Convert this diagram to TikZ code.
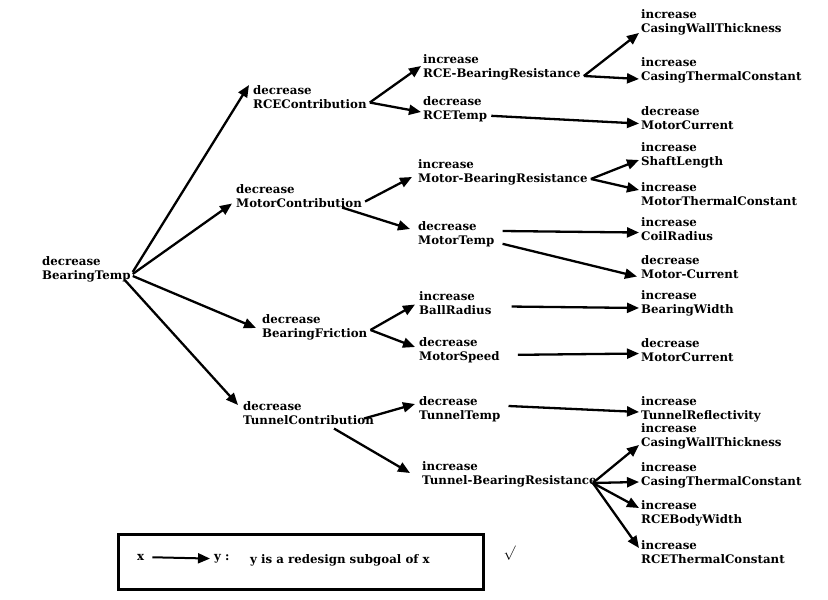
\documentclass[tikz,border=0pt]{standalone}
\usepackage{fontspec}
\setmainfont{DejaVu Serif}
\usetikzlibrary{arrows.meta}
\begin{document}
\begin{tikzpicture}[x=1pt,y=-1pt,
  lbl/.style={anchor=north west,inner sep=0pt,align=left,font=\bfseries\fontsize{11.8}{14}\selectfont},
  arr/.style={line width=2.3pt,-{Triangle[length=12pt,width=10pt]}}]
\useasboundingbox (0,0) rectangle (828,600);
\node[lbl] (bt) at (42,256) {decrease\\BearingTemp};
\node[lbl] (rc) at (253,85) {decrease\\RCEContribution};
\node[lbl] (mc) at (236,184) {decrease\\MotorContribution};
\node[lbl] (bf) at (262,314) {decrease\\BearingFriction};
\node[lbl] (tc) at (243,401) {decrease\\TunnelContribution};
\node[lbl] (rbr) at (423,54) {increase\\RCE-BearingResistance};
\node[lbl] (rt) at (423,96) {decrease\\RCETemp};
\node[lbl] (mbr) at (418,159) {increase\\Motor-BearingResistance};
\node[lbl] (mt) at (418,221) {decrease\\MotorTemp};
\node[lbl] (br) at (419,291) {increase\\BallRadius};
\node[lbl] (ms) at (419,337) {decrease\\MotorSpeed};
\node[lbl] (tt) at (419,396) {decrease\\TunnelTemp};
\node[lbl] (tbr) at (422,461) {increase\\Tunnel-BearingResistance};
\node[lbl] (l1) at (641,9) {increase\\CasingWallThickness};
\node[lbl] (l2) at (641,57) {increase\\CasingThermalConstant};
\node[lbl] (l3) at (641,106) {decrease\\MotorCurrent};
\node[lbl] (l4) at (641,142) {increase\\ShaftLength};
\node[lbl] (l5) at (641,182) {increase\\MotorThermalConstant};
\node[lbl] (l6) at (641,217) {increase\\CoilRadius};
\node[lbl] (l7) at (641,255) {decrease\\Motor-Current};
\node[lbl] (l8) at (641,290) {increase\\BearingWidth};
\node[lbl] (l9) at (641,338) {decrease\\MotorCurrent};
\node[lbl] (l10) at (641,396) {increase\\TunnelReflectivity};
\node[lbl] (l11) at (641,423) {increase\\CasingWallThickness};
\node[lbl] (l12) at (641,462) {increase\\CasingThermalConstant};
\node[lbl] (l13) at (641,500) {increase\\RCEBodyWidth};
\node[lbl] (l14) at (641,540) {increase\\RCEThermalConstant};
% level 1
\draw[arr] ([shift={(2,-10)}]bt.south east) -- ([shift={(-4,0)}]rc.north west);
\draw[arr] ([shift={(2,-8)}]bt.south east) -- ([shift={(-4,-4)}]mc.south west);
\draw[arr] ([shift={(2,-6)}]bt.south east) -- ([shift={(-6,-12)}]bf.south west);
\draw[arr] ([shift={(-6,-2)}]bt.south east) -- ([shift={(-5,4)}]tc.north west);
% RCE
\draw[arr] ([shift={(3,-6)}]rc.south east) -- ([shift={(-2,12)}]rbr.north west);
\draw[arr] ([shift={(3,-6)}]rc.south east) -- ([shift={(-2,16)}]rt.north west);
\draw[arr] ([shift={(3,-4)}]rbr.south east) -- ([shift={(-2,-2)}]l1.south west);
\draw[arr] ([shift={(3,-4)}]rbr.south east) -- ([shift={(-2,-4)}]l2.south west);
\draw[arr] ([shift={(4,-6)}]rt.south east) -- ([shift={(-2,-6)}]l3.south west);
% Motor
\draw[arr] ([shift={(3,-6)}]mc.south east) -- ([shift={(-6,-8)}]mbr.south west);
\draw[arr] ([shift={(-20,0)}]mc.south east) -- ([shift={(-8,8)}]mt.north west);
\draw[arr] ([shift={(3,-6)}]mbr.south east) -- ([shift={(-2,-8)}]l4.south west);
\draw[arr] ([shift={(3,-6)}]mbr.south east) -- ([shift={(-2,8)}]l5.north west);
\draw[arr] ([shift={(8,10)}]mt.north east) -- ([shift={(-2,-8)}]l6.south west);
\draw[arr] ([shift={(8,-3)}]mt.south east) -- ([shift={(-4,-2)}]l7.south west);
% Friction
\draw[arr] ([shift={(3,-10)}]bf.south east) -- ([shift={(-4,-10)}]br.south west);
\draw[arr] ([shift={(3,-10)}]bf.south east) -- ([shift={(-4,10)}]ms.north west);
\draw[arr] ([shift={(20,-8)}]br.south east) -- ([shift={(-2,-8)}]l8.south west);
\draw[arr] ([shift={(18,-8)}]ms.south east) -- ([shift={(-2,-8)}]l9.south west);
% Tunnel
\draw[arr] ([shift={(-10,-6)}]tc.south east) -- ([shift={(-4,8)}]tt.north west);
\draw[arr] ([shift={(-40,4)}]tc.south east) -- ([shift={(-12,12)}]tbr.north west);
\draw[arr] ([shift={(8,10)}]tt.north east) -- ([shift={(-2,-10)}]l10.south west);
\draw[arr] ([shift={(-4,-4)}]tbr.south east) -- ([shift={(-2,-4)}]l11.south west);
\draw[arr] ([shift={(-4,-4)}]tbr.south east) -- ([shift={(-2,-6)}]l12.south west);
\draw[arr] ([shift={(-4,-4)}]tbr.south east) -- ([shift={(-2,8)}]l13.north west);
\draw[arr] ([shift={(-4,-4)}]tbr.south east) -- ([shift={(-2,8)}]l14.north west);
% legend
\node[draw,line width=3pt,minimum width=365pt,minimum height=55pt,anchor=north west] (leg) at (117,533) {};
\node[lbl] (lx) at (137,554) {x};
\node[lbl] (ly) at (214,554) {y :};
\node[lbl] (lt) at (250,554) {y is a redesign subgoal of x};
\draw[arr,line width=2pt] ([xshift=8pt]lx.east) -- ([xshift=-4pt]ly.west);
\node[anchor=west,font=\Large] (chk) at (500,553) {$\surd$};
\end{tikzpicture}
\end{document}
